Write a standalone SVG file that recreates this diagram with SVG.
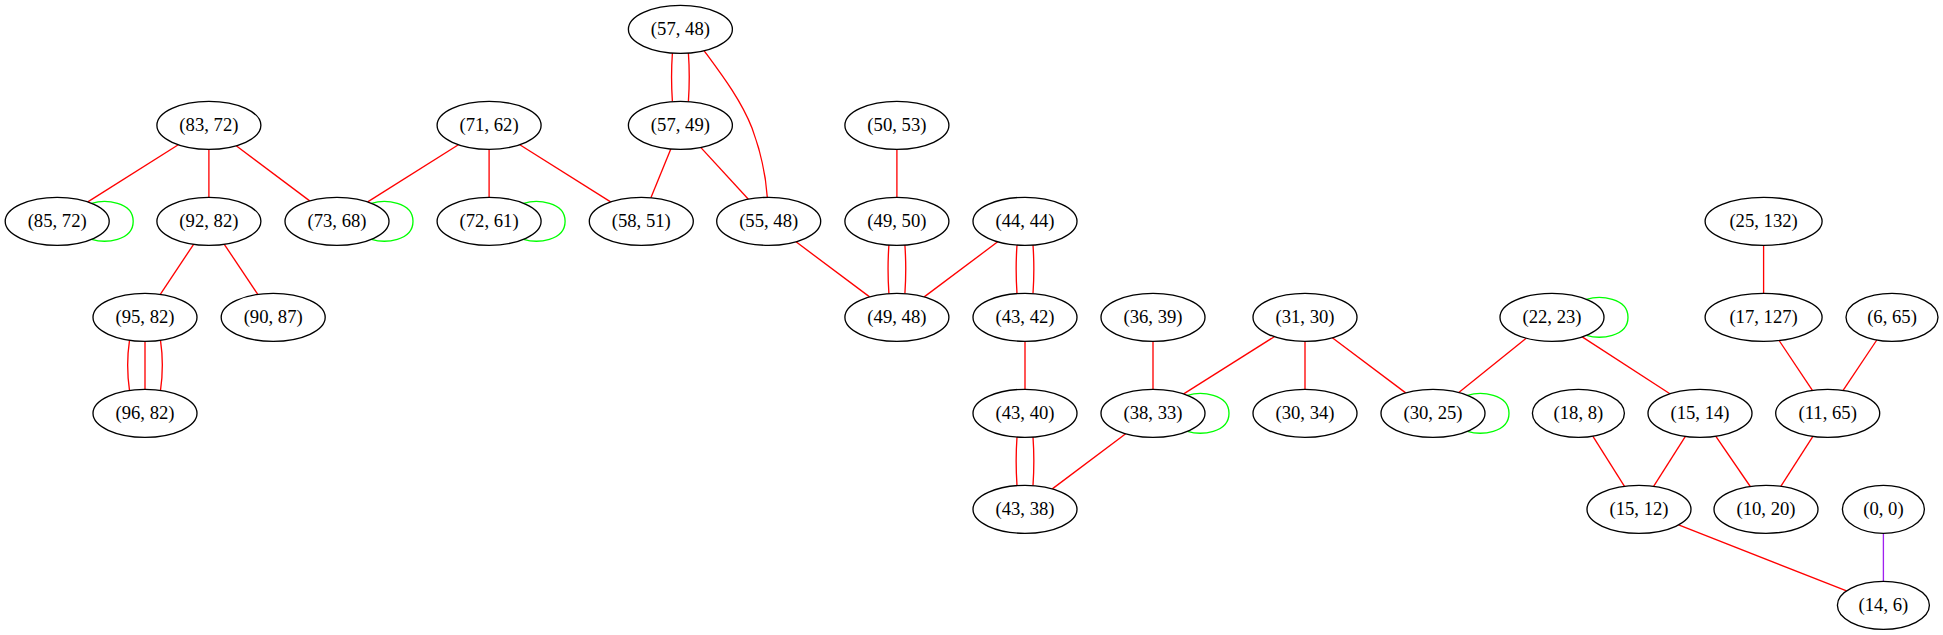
<svg xmlns="http://www.w3.org/2000/svg" width="1943" height="635" viewBox="0 0 1943 635">
<style>
.node ellipse{fill:#ffffff;stroke:#000000;stroke-width:1.33}
.node text{font-family:'Liberation Serif','Times New Roman',serif;font-size:18.67px;text-anchor:middle;fill:#000000}
.e{fill:none;stroke:#ff0000;stroke-width:1.33}
.loop{fill:none;stroke:#00ff00;stroke-width:1.33}
.p{fill:none;stroke:#a020f0;stroke-width:1.33}
</style>
<rect width="1943" height="635" fill="#ffffff"/>
<g id="connectors">
<path class="e" d="M178.3,144.7 L87.8,201.9"/>
<path class="e" d="M208.9,149.33 L208.9,197.33"/>
<path class="e" d="M236.2,145.8 L309.7,200.9"/>
<path class="e" d="M458.4,144.7 L367.7,201.9"/>
<path class="e" d="M489.1,149.33 L489.1,197.33"/>
<path class="e" d="M519.8,144.7 L610.6,201.9"/>
<path class="e" d="M193.6,244.3 L160.3,294.4"/>
<path class="e" d="M224.3,244.3 L257.8,294.4"/>
<path class="e" d="M129.5,340.3 C127,357 127,373 129.5,390.3"/>
<path class="e" d="M145,341.33 L145,389.33"/>
<path class="e" d="M160.5,340.3 C163,357 163,373 160.5,390.3"/>
<path class="e" d="M672.4,53 C671.2,70 671.2,84 672.4,101.6"/>
<path class="e" d="M688.4,53 C689.6,70 689.6,84 688.4,101.6"/>
<path class="e" d="M704.2,50.8 C722,75 741,100 752,128 C762,155 766,178 767.3,197.3"/>
<path class="e" d="M670.8,148.9 L650.9,197.7"/>
<path class="e" d="M700.7,147.4 L748.4,199.2"/>
<path class="e" d="M896.9,149.33 L896.9,197.33"/>
<path class="e" d="M888.9,245 C887.7,262 887.7,276 888.9,293.6"/>
<path class="e" d="M904.9,245 C906.1,262 906.1,276 904.9,293.6"/>
<path class="e" d="M796,241.8 L869.6,296.9"/>
<path class="e" d="M997.7,241.8 L924.2,296.9"/>
<path class="e" d="M1017,245 C1015.8,262 1015.8,276 1017,293.6"/>
<path class="e" d="M1033,245 C1034.2,262 1034.2,276 1033,293.6"/>
<path class="e" d="M1025,341.33 L1025,389.33"/>
<path class="e" d="M1017,437 C1015.8,454 1015.8,468 1017,485.6"/>
<path class="e" d="M1033,437 C1034.2,454 1034.2,468 1033,485.6"/>
<path class="e" d="M1153,341.33 L1153,389.33"/>
<path class="e" d="M1274.3,336.7 L1183.7,393.9"/>
<path class="e" d="M1305,341.33 L1305,389.33"/>
<path class="e" d="M1332.3,337.8 L1405.7,392.9"/>
<path class="e" d="M1125.7,433.8 L1052.3,488.9"/>
<path class="e" d="M1526.2,338.2 L1458.8,392.5"/>
<path class="e" d="M1582.2,336.9 L1669.9,393.8"/>
<path class="e" d="M1763.6,245.33 L1763.6,293.33"/>
<path class="e" d="M1779.1,340.5 L1812.4,390.4"/>
<path class="e" d="M1876.8,340 L1843.1,390.4"/>
<path class="e" d="M1592.8,436.1 L1624.5,486.3"/>
<path class="e" d="M1685.4,436.4 L1653.6,486.3"/>
<path class="e" d="M1715.7,436.2 L1750.3,486.5"/>
<path class="e" d="M1812.9,436.4 L1780.8,486.3"/>
<path class="e" d="M1678.6,524.9 L1846.6,590.9"/>
<path class="p" d="M1883.4,533.33 L1883.4,581.33"/>
<path class="loop" d="M91.6,203.33 C105.2,199.33 133.2,201.33 133.2,221.33 C133.2,241.33 105.2,243.33 91.6,239.33"/>
<path class="loop" d="M371.4,203.33 C385,199.33 413,201.33 413,221.33 C413,241.33 385,243.33 371.4,239.33"/>
<path class="loop" d="M523.5,203.33 C537.1,199.33 565.1,201.33 565.1,221.33 C565.1,241.33 537.1,243.33 523.5,239.33"/>
<path class="loop" d="M1187.4,395.33 C1201,391.33 1229,393.33 1229,413.33 C1229,433.33 1201,435.33 1187.4,431.33"/>
<path class="loop" d="M1467.4,395.33 C1481,391.33 1509,393.33 1509,413.33 C1509,433.33 1481,435.33 1467.4,431.33"/>
<path class="loop" d="M1586.4,299.33 C1600,295.33 1628,297.33 1628,317.33 C1628,337.33 1600,339.33 1586.4,335.33"/>
</g>
<g id="nodes" font-family="'Liberation Serif', 'Times New Roman', serif" font-size="18.67">
<g id="n5748" class="node"><ellipse cx="680.4" cy="29.33" rx="52" ry="24"/><text x="680.4" y="34.93">(57, 48)</text></g>
<g id="n8372" class="node"><ellipse cx="208.9" cy="125.33" rx="52" ry="24"/><text x="208.9" y="130.93">(83, 72)</text></g>
<g id="n7162" class="node"><ellipse cx="489.1" cy="125.33" rx="52" ry="24"/><text x="489.1" y="130.93">(71, 62)</text></g>
<g id="n5749" class="node"><ellipse cx="680.4" cy="125.33" rx="52" ry="24"/><text x="680.4" y="130.93">(57, 49)</text></g>
<g id="n5053" class="node"><ellipse cx="896.9" cy="125.33" rx="52" ry="24"/><text x="896.9" y="130.93">(50, 53)</text></g>
<g id="n8572" class="node"><ellipse cx="57.2" cy="221.33" rx="52" ry="24"/><text x="57.2" y="226.93">(85, 72)</text></g>
<g id="n9282" class="node"><ellipse cx="208.9" cy="221.33" rx="52" ry="24"/><text x="208.9" y="226.93">(92, 82)</text></g>
<g id="n7368" class="node"><ellipse cx="337" cy="221.33" rx="52" ry="24"/><text x="337" y="226.93">(73, 68)</text></g>
<g id="n7261" class="node"><ellipse cx="489.1" cy="221.33" rx="52" ry="24"/><text x="489.1" y="226.93">(72, 61)</text></g>
<g id="n5851" class="node"><ellipse cx="641.3" cy="221.33" rx="52" ry="24"/><text x="641.3" y="226.93">(58, 51)</text></g>
<g id="n5548" class="node"><ellipse cx="768.7" cy="221.33" rx="52" ry="24"/><text x="768.7" y="226.93">(55, 48)</text></g>
<g id="n4950" class="node"><ellipse cx="896.9" cy="221.33" rx="52" ry="24"/><text x="896.9" y="226.93">(49, 50)</text></g>
<g id="n4444" class="node"><ellipse cx="1025" cy="221.33" rx="52" ry="24"/><text x="1025" y="226.93">(44, 44)</text></g>
<g id="n25132" class="node"><ellipse cx="1763.6" cy="221.33" rx="58.5" ry="24"/><text x="1763.6" y="226.93">(25, 132)</text></g>
<g id="n9582" class="node"><ellipse cx="145" cy="317.33" rx="52" ry="24"/><text x="145" y="322.93">(95, 82)</text></g>
<g id="n9087" class="node"><ellipse cx="273.2" cy="317.33" rx="52" ry="24"/><text x="273.2" y="322.93">(90, 87)</text></g>
<g id="n4948" class="node"><ellipse cx="896.9" cy="317.33" rx="52" ry="24"/><text x="896.9" y="322.93">(49, 48)</text></g>
<g id="n4342" class="node"><ellipse cx="1025" cy="317.33" rx="52" ry="24"/><text x="1025" y="322.93">(43, 42)</text></g>
<g id="n3639" class="node"><ellipse cx="1153" cy="317.33" rx="52" ry="24"/><text x="1153" y="322.93">(36, 39)</text></g>
<g id="n3130" class="node"><ellipse cx="1305" cy="317.33" rx="52" ry="24"/><text x="1305" y="322.93">(31, 30)</text></g>
<g id="n2223" class="node"><ellipse cx="1552" cy="317.33" rx="52" ry="24"/><text x="1552" y="322.93">(22, 23)</text></g>
<g id="n17127" class="node"><ellipse cx="1763.6" cy="317.33" rx="58.5" ry="24"/><text x="1763.6" y="322.93">(17, 127)</text></g>
<g id="n665" class="node"><ellipse cx="1892" cy="317.33" rx="46" ry="24"/><text x="1892" y="322.93">(6, 65)</text></g>
<g id="n9682" class="node"><ellipse cx="145" cy="413.33" rx="52" ry="24"/><text x="145" y="418.93">(96, 82)</text></g>
<g id="n4340" class="node"><ellipse cx="1025" cy="413.33" rx="52" ry="24"/><text x="1025" y="418.93">(43, 40)</text></g>
<g id="n3833" class="node"><ellipse cx="1153" cy="413.33" rx="52" ry="24"/><text x="1153" y="418.93">(38, 33)</text></g>
<g id="n3034" class="node"><ellipse cx="1305" cy="413.33" rx="52" ry="24"/><text x="1305" y="418.93">(30, 34)</text></g>
<g id="n3025" class="node"><ellipse cx="1433" cy="413.33" rx="52" ry="24"/><text x="1433" y="418.93">(30, 25)</text></g>
<g id="n188" class="node"><ellipse cx="1578.4" cy="413.33" rx="46" ry="24"/><text x="1578.4" y="418.93">(18, 8)</text></g>
<g id="n1514" class="node"><ellipse cx="1700" cy="413.33" rx="52" ry="24"/><text x="1700" y="418.93">(15, 14)</text></g>
<g id="n1165" class="node"><ellipse cx="1827.7" cy="413.33" rx="52" ry="24"/><text x="1827.7" y="418.93">(11, 65)</text></g>
<g id="n4338" class="node"><ellipse cx="1025" cy="509.33" rx="52" ry="24"/><text x="1025" y="514.93">(43, 38)</text></g>
<g id="n1512" class="node"><ellipse cx="1639" cy="509.33" rx="52" ry="24"/><text x="1639" y="514.93">(15, 12)</text></g>
<g id="n1020" class="node"><ellipse cx="1766" cy="509.33" rx="52" ry="24"/><text x="1766" y="514.93">(10, 20)</text></g>
<g id="n00" class="node"><ellipse cx="1883.4" cy="509.33" rx="41" ry="24"/><text x="1883.4" y="514.93">(0, 0)</text></g>
<g id="n146" class="node"><ellipse cx="1883.4" cy="605.33" rx="46" ry="24"/><text x="1883.4" y="610.93">(14, 6)</text></g>
</g>
</svg>
